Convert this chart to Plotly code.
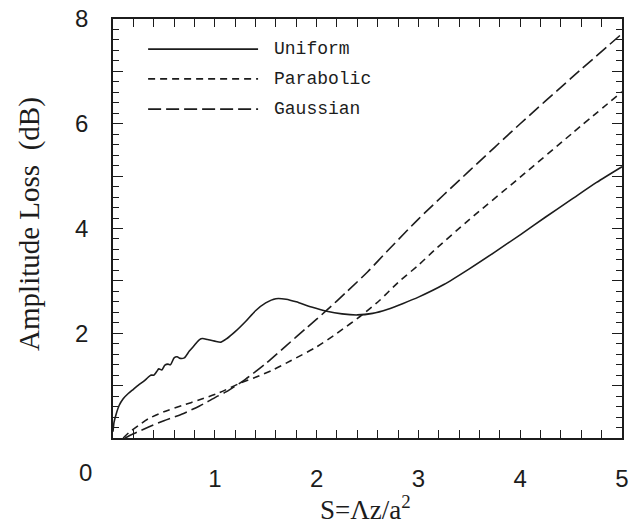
import plotly.graph_objects as go

# Normalised propagation distance S and amplitude loss (dB) for three aperture tapers
uniform_s = [0.00, 0.01, 0.03, 0.06, 0.10, 0.15, 0.20, 0.25, 0.30, 0.34, 0.37, 0.40,
             0.43, 0.45, 0.48, 0.51, 0.54, 0.565, 0.60, 0.63, 0.66, 0.70, 0.75, 0.80,
             0.85, 0.88, 0.93, 1.00, 1.06, 1.12, 1.20, 1.30, 1.40, 1.50, 1.60, 1.70,
             1.80, 1.95, 2.10, 2.25, 2.40, 2.55, 2.70, 2.85, 3.00, 3.25, 3.50, 3.75,
             4.00, 4.25, 4.50, 4.75, 5.00]
uniform_db = [0.12, 0.30, 0.45, 0.62, 0.75, 0.85, 0.93, 1.01, 1.08, 1.15, 1.20, 1.20,
              1.27, 1.32, 1.30, 1.39, 1.41, 1.40, 1.53, 1.55, 1.52, 1.53, 1.66, 1.77,
              1.88, 1.90, 1.88, 1.85, 1.83, 1.90, 2.03, 2.22, 2.43, 2.58, 2.66, 2.65,
              2.60, 2.50, 2.42, 2.37, 2.35, 2.38, 2.46, 2.57, 2.69, 2.93, 3.23, 3.55,
              3.88, 4.22, 4.55, 4.88, 5.18]

parabolic_s = [0.10, 0.16, 0.25, 0.35, 0.50, 0.68, 0.85, 1.04, 1.24, 1.40, 1.57, 1.75,
               2.00, 2.20, 2.46, 2.62, 2.80, 3.00, 3.16, 3.50, 4.00, 4.50, 5.00]
parabolic_db = [0.00, 0.11, 0.24, 0.37, 0.50, 0.62, 0.73, 0.86, 1.04, 1.16, 1.30, 1.48,
                1.74, 2.00, 2.37, 2.63, 2.97, 3.30, 3.59, 4.17, 4.98, 5.80, 6.61]

gaussian_s = [0.12, 0.20, 0.35, 0.50, 0.68, 0.85, 1.01, 1.11, 1.30, 1.50, 1.70, 1.90,
              2.10, 2.30, 2.50, 2.69, 3.00, 3.50, 4.00, 4.50, 5.00]
gaussian_db = [0.00, 0.08, 0.21, 0.33, 0.46, 0.61, 0.78, 0.88, 1.12, 1.42, 1.76, 2.10,
               2.44, 2.80, 3.17, 3.56, 4.18, 5.10, 6.00, 6.87, 7.72]

names = ["Uniform", "Parabolic", "Gaussian"]
dashes = ["solid", "7px,5px", "13px,5px"]

x_labels = [1, 2, 3, 4, 5]
y_labels = [2, 4, 6, 8]
y_unlabelled = [1, 3, 5, 7]

INK = "#1c1c1c"
LABEL_FONT = "Liberation Sans Narrow, Arial Narrow, Liberation Sans, Arial, sans-serif"
SERIF = "Liberation Serif, Times New Roman, serif"
MONO = "Liberation Mono, Courier New, monospace"

fig = go.Figure()
for name, xs, ys, dash in zip(names,
                              [uniform_s, parabolic_s, gaussian_s],
                              [uniform_db, parabolic_db, gaussian_db],
                              dashes):
    fig.add_trace(go.Scatter(
        x=xs, y=ys, mode="lines", name=name,
        line=dict(color=INK, width=1.6, dash=dash, shape="spline", smoothing=0.7),
        showlegend=False,
    ))

# Invisible trace that carries the secondary (unlabelled major tick) y axis
fig.add_trace(go.Scatter(x=[None], y=[None], yaxis="y2", showlegend=False,
                         hoverinfo="skip"))

# Hand-placed key in the upper-left corner of the plotting area
key_y = [0.928, 0.857, 0.785]
for name, dash, ky in zip(names, dashes, key_y):
    fig.add_shape(type="line", xref="paper", yref="paper",
                  x0=0.069, x1=0.285, y0=ky, y1=ky,
                  line=dict(color=INK, width=1.6, dash=dash))
    fig.add_annotation(xref="paper", yref="paper", x=0.312, y=ky,
                       text=name, showarrow=False, xanchor="left", yanchor="middle",
                       font=dict(family=MONO, size=18, color=INK))

# Shared origin label at the lower-left corner
fig.add_annotation(xref="paper", yref="paper", x=-0.055, y=-0.0835,
                   text="0", showarrow=False, xanchor="center", yanchor="middle",
                   font=dict(family=LABEL_FONT, size=24, color=INK))

# Axis titles
fig.add_annotation(xref="paper", yref="paper", x=0.497, y=-0.166,
                   text="S=Λz/a<sup>2</sup>", showarrow=False,
                   xanchor="center", yanchor="middle",
                   font=dict(family=SERIF, size=27, color=INK))
fig.add_annotation(xref="paper", yref="paper", x=-0.163, y=0.511,
                   text="Amplitude Loss  (dB)", showarrow=False, textangle=-90,
                   xanchor="center", yanchor="middle",
                   font=dict(family=SERIF, size=29, color=INK))

fig.update_xaxes(
    range=[0, 5], tickvals=x_labels,
    ticks="inside", ticklen=8, tickwidth=1.3, tickcolor=INK,
    minor=dict(dtick=0.2, ticks="inside", ticklen=4, tickwidth=1.1, tickcolor=INK),
    showline=True, linecolor=INK, linewidth=1.6, mirror="allticks",
    showgrid=False, zeroline=False, automargin=False,
    ticklabelstandoff=18,
    tickfont=dict(family=LABEL_FONT, size=24, color=INK),
)

fig.update_layout(
    width=638, height=525,
    margin=dict(l=113, r=16, t=19, b=87),
    paper_bgcolor="white", plot_bgcolor="white",
    yaxis=dict(
        range=[0, 8], tickvals=y_labels,
        ticks="inside", ticklen=10, tickwidth=1.3, tickcolor=INK,
        minor=dict(dtick=0.2, ticks="inside", ticklen=6, tickwidth=1.1, tickcolor=INK),
        showline=True, linecolor=INK, linewidth=1.6, mirror="allticks",
        showgrid=False, zeroline=False, automargin=False,
        ticklabelstandoff=18,
        tickfont=dict(family=LABEL_FONT, size=24, color=INK),
    ),
    yaxis2=dict(
        range=[0, 8], overlaying="y", side="left", anchor="x",
        tickvals=y_unlabelled, showticklabels=False,
        ticks="inside", ticklen=10, tickwidth=1.3, tickcolor=INK,
        showline=True, linecolor=INK, linewidth=1.6, mirror="allticks",
        showgrid=False, zeroline=False, automargin=False,
    ),
)

fig.write_html("out.html")
